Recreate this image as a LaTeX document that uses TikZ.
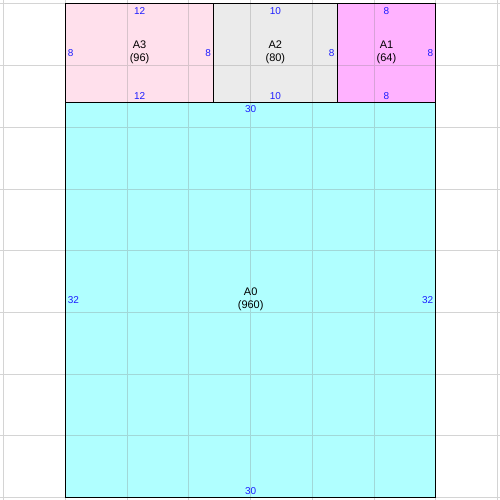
\documentclass[tikz,border=0pt]{standalone}
\usepackage{fontspec}
\setmainfont{Liberation Sans}
\definecolor{pinkA}{RGB}{255,224,236}
\definecolor{grayA}{RGB}{235,235,235}
\definecolor{violetA}{RGB}{255,178,255}
\definecolor{cyanA}{RGB}{176,255,255}
\definecolor{numblue}{RGB}{30,30,255}
\begin{document}
\begin{tikzpicture}[x=12.3457pt,y=12.3457pt,
  dim/.style={font=\fontsize{10}{12}\selectfont, text=numblue, inner sep=0pt},
  lbl/.style={font=\fontsize{11}{13}\selectfont, align=center, inner sep=0pt},
  gridline/.style={draw=gray, opacity=0.34, line width=1pt},
  gridin/.style={draw=gray, opacity=0.3, line width=1pt},
  border/.style={draw=black, line width=1.2pt}]
\useasboundingbox (-5.305,-0.19) rectangle ++(40.5,40.5);
% outer grid
\draw[gridline] (-5.305,-0.19) grid[step=5] (35.195,40.31);
% fills
\fill[cyanA] (0,0) rectangle (30,32);
\fill[pinkA] (0,32) rectangle (12,40);
\fill[grayA] (12,32) rectangle (22,40);
\fill[violetA] (22,32) rectangle (30,40);
% faint grid over the fills
\begin{scope}
  \clip (0,0) rectangle (30,40);
  \draw[gridin] (-5.305,-0.19) grid[step=5] (35.195,40.31);
\end{scope}
% borders
\draw[border] (0,0) rectangle (30,32);
\draw[border] (0,32) rectangle (12,40);
\draw[border] (12,32) rectangle (22,40);
\draw[border] (22,32) rectangle (30,40);
% labels
\node[lbl] (a3) at (6,36.1) {A3\\(96)};
\node[lbl] (a2) at (17,36.1) {A2\\(80)};
\node[lbl] (a1) at (26,36.1) {A1\\(64)};
\node[lbl] (a0) at (15,16.1) {A0\\(960)};
% A3 dimensions
\node[dim] (a3t) at (6,39.4) {12};
\node[dim] (a3b) at (6,32.5) {12};
\node[dim,anchor=west] (a3l) at (0.17,36) {8};
\node[dim,anchor=east] (a3r) at (11.8,36) {8};
% A2 dimensions
\node[dim] (a2t) at (17,39.4) {10};
\node[dim] (a2b) at (17,32.5) {10};
\node[dim,anchor=east] (a2r) at (21.8,36) {8};
% A1 dimensions
\node[dim] (a1t) at (26,39.4) {8};
\node[dim] (a1b) at (26,32.5) {8};
\node[dim,anchor=east] (a1r) at (29.8,36) {8};
% A0 dimensions
\node[dim] (a0t) at (15,31.45) {30};
\node[dim] (a0b) at (15,0.57) {30};
\node[dim,anchor=west] (a0l) at (0.17,16) {32};
\node[dim,anchor=east] (a0r) at (29.8,16) {32};
\end{tikzpicture}
\end{document}
